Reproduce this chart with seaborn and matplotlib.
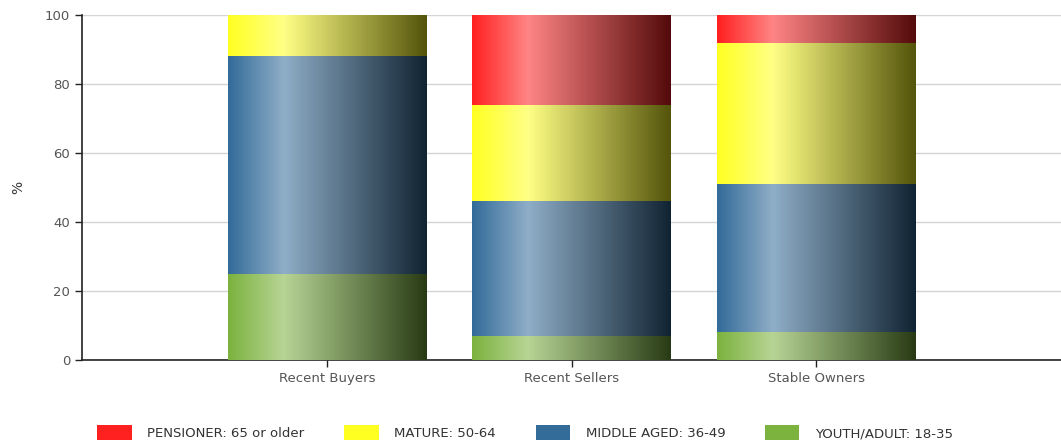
import numpy as np
import pandas as pd
import matplotlib
matplotlib.use("Agg")
import matplotlib.pyplot as plt
import matplotlib.colors as mcolors
from matplotlib.patches import Patch
import seaborn as sns

# data (% of each group)
groups = ["Recent Buyers", "Recent Sellers", "Stable Owners"]
segments = ["YOUTH/ADULT: 18-35", "MIDDLE AGED: 36-49", "MATURE: 50-64", "PENSIONER: 65 or older"]
youth = [25, 7, 8]
middle = [63.2, 39, 43]
mature = [11.8, 28, 41]
pensioner = [0, 26, 8]
seg_colors = ["#7cb23e", "#336b99", "#ffff22", "#ff2020"]

values = [youth, middle, mature, pensioner]

sns.set_style("white")
fig = plt.figure(figsize=(10.61, 4.47), dpi=100)
ax = fig.add_axes([0.0773, 0.1946, 0.9227, 0.7718])

df = pd.DataFrame({"group": groups})
bottom = np.zeros(len(groups))
for name, vals, col in zip(segments, values, seg_colors):
    df[name] = vals
    sns.barplot(data=df, x="group", y=name, order=groups, color=col, width=0.81,
                bottom=bottom.copy(), errorbar=None, ax=ax, zorder=2,
                saturation=1, linewidth=0)
    bottom = bottom + np.array(vals)

# cylinder-like shading on each bar segment
def shade(col):
    base = np.array(mcolors.to_rgb(col))
    light = base * 0.55 + 0.45
    dark = base * 0.33
    pos = np.linspace(0, 1, 200)
    out = np.zeros((1, 200, 3))
    for i, p in enumerate(pos):
        if p < 0.28:
            t = p / 0.28
            out[0, i] = base * (1 - t) + light * t
        else:
            t = (p - 0.28) / 0.72
            out[0, i] = light * (1 - t) + dark * t
    return out

for patch in ax.patches:
    x0, y0 = patch.get_x(), patch.get_y()
    w, h = patch.get_width(), patch.get_height()
    if h <= 0:
        continue
    ax.imshow(shade(patch.get_facecolor()[:3]), extent=[x0, x0 + w, y0, y0 + h],
              aspect="auto", zorder=3, interpolation="bilinear")

ax.set_xlim(-1, 3)
ax.set_ylim(0, 100)
ax.set_yticks([0, 20, 40, 60, 80, 100])
ax.yaxis.grid(True, color="#d4d4d4", linewidth=1)
ax.set_axisbelow(True)
sns.despine(ax=ax, top=True, right=True)
for s in ["left", "bottom"]:
    ax.spines[s].set_color("#222222")
    ax.spines[s].set_linewidth(1.2)
ax.tick_params(axis="both", which="both", direction="out", length=5, width=1,
               color="#222222", labelcolor="#555555", labelsize=9.5,
               left=True, bottom=True)
ax.set_xlabel("")
ax.set_ylabel("%", fontsize=10, color="#333333", labelpad=14)

handles = [Patch(facecolor=c, edgecolor="none", label=n)
           for n, c in zip(segments[::-1], seg_colors[::-1])]
fig.legend(handles=handles, loc="center", bbox_to_anchor=(0.495, 0.032), ncol=4,
           frameon=False, handlelength=2.6, handleheight=1.3, columnspacing=3.0,
           handletextpad=1.2, prop={"size": 9.5}, labelcolor="#333333")

fig.savefig("out.png", dpi=100)
